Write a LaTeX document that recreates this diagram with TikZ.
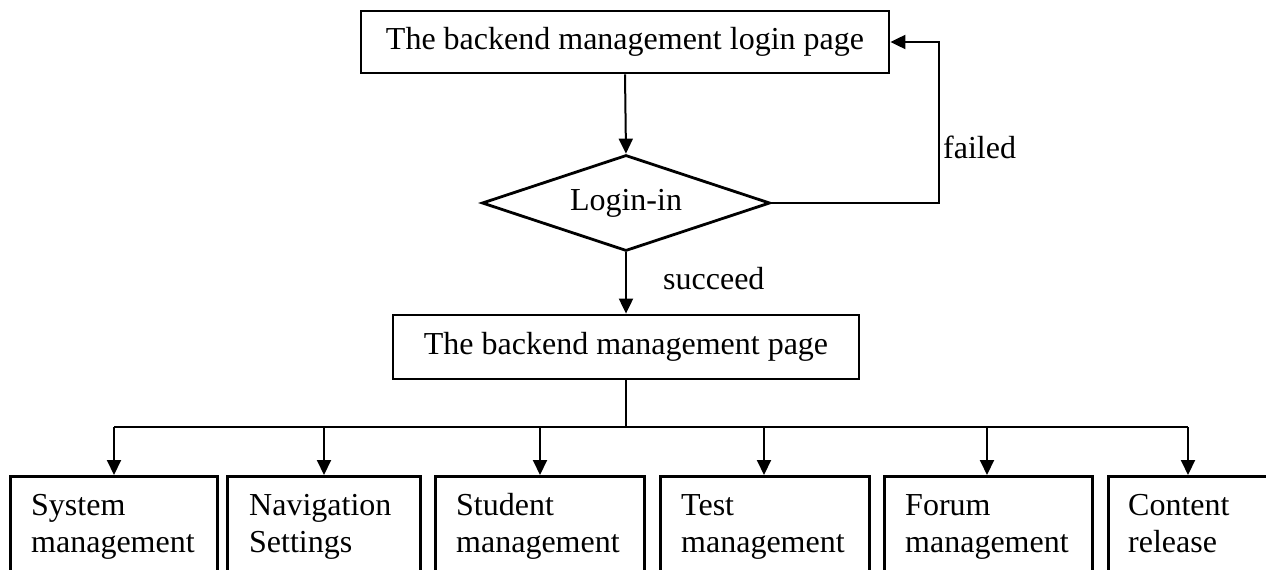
\documentclass[tikz,border=0pt]{standalone}
\usepackage{fontspec}
\setmainfont{Liberation Serif}
\usetikzlibrary{shapes.geometric,arrows.meta}
\begin{document}
\begin{tikzpicture}[x=1pt,y=-1pt,
  txt/.style={font=\fontsize{32}{37}\selectfont},
  box/.style={draw,line width=2.8pt,inner sep=0pt,txt},
  dia/.style={draw,diamond,aspect=3,line width=2.8pt,inner sep=0pt,minimum width=288pt,minimum height=96pt,txt},
  leaf/.style={draw,line width=2.8pt,inner sep=0pt,anchor=north west,minimum height=140pt},
  leaftext/.style={anchor=north west,inner sep=0pt,align=left,txt},
  lbl/.style={inner sep=0pt,anchor=base west,txt},
  arr/.style={line width=2pt,-{Triangle[length=15pt,width=14pt]}},
  ln/.style={line width=2pt}]
\useasboundingbox (0,0) rectangle (1266,570);
\clip (0,0) rectangle (1266,570);
\node[box,minimum width=528pt,minimum height=62pt] (t) at (625,42) {The backend management login page};
\node[dia] (d) at (626,203) {Login-in};
\node[box,minimum width=466pt,minimum height=64pt] (m) at (626,347) {The backend management page};
% leaves
\node[leaf,minimum width=207pt] (s1) at (9,475) {};
\node[leaf,minimum width=193pt] (s2) at (226,475) {};
\node[leaf,minimum width=209pt] (s3) at (434,475) {};
\node[leaf,minimum width=209pt] (s4) at (659,475) {};
\node[leaf,minimum width=208pt] (s5) at (883,475) {};
\node[leaf,minimum width=170pt] (s6) at (1107,475) {};
\node[leaftext] (x1) at (31,489) {\strut System\\management};
\node[leaftext] (x2) at (249,489) {\strut Navigation\\Settings};
\node[leaftext] (x3) at (456,489) {\strut Student\\management};
\node[leaftext] (x4) at (681,489) {\strut Test\\management};
\node[leaftext] (x5) at (905,489) {\strut Forum\\management};
\node[leaftext] (x6) at (1128,489) {\strut Content\\release};
% labels
\node[lbl] (lf) at (943,158) {failed};
\node[lbl] (ls) at (663,289) {succeed};
% connectors
\draw[arr] (t.south) -- (d.north);
\draw[arr] (d.south) -- (m.north);
\draw[arr] (d.east) -- (939,203) |- (t.east);
\coordinate (j) at (626,427);
\coordinate (h1) at (114,427);
\coordinate (h2) at (324,427);
\coordinate (h3) at (540,427);
\coordinate (h4) at (764,427);
\coordinate (h5) at (987,427);
\coordinate (h6) at (1188,427);
\draw[ln] (m.south) -- (j);
\draw[ln] (h1) -- (h6);
\draw[arr] (h1) -- (h1 |- s1.north);
\draw[arr] (h2) -- (h2 |- s2.north);
\draw[arr] (h3) -- (h3 |- s3.north);
\draw[arr] (h4) -- (h4 |- s4.north);
\draw[arr] (h5) -- (h5 |- s5.north);
\draw[arr] (h6) -- (h6 |- s6.north);
\end{tikzpicture}
\end{document}
